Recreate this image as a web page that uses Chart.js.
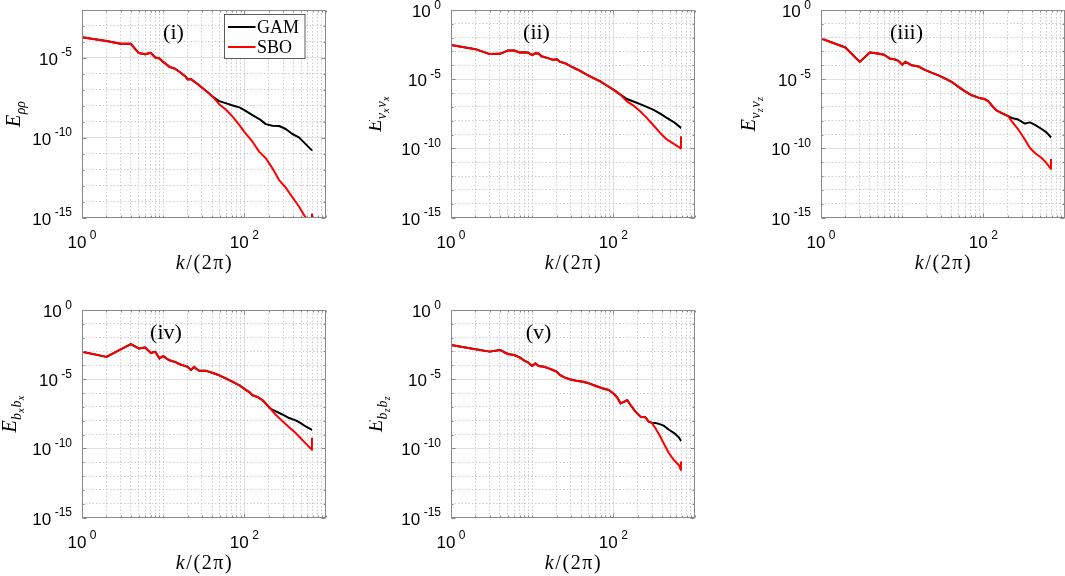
<!DOCTYPE html>
<html>
<head>
<meta charset="utf-8">
<script src="https://cdn.jsdelivr.net/npm/chart.js@4.4.1/dist/chart.umd.min.js"></script>
<style>
html,body{margin:0;padding:0;background:#fff;width:1065px;height:576px;overflow:hidden;position:relative;}
.p{position:absolute;width:328px;height:280px;}
</style>
</head>
<body>
<div class="p" style="left:0px;top:0px"><canvas id="c1"></canvas></div>
<div class="p" style="left:369px;top:0px"><canvas id="c2"></canvas></div>
<div class="p" style="left:739px;top:0px"><canvas id="c3"></canvas></div>
<div class="p" style="left:0px;top:300px"><canvas id="c4"></canvas></div>
<div class="p" style="left:369px;top:300px"><canvas id="c5"></canvas></div>
<script>
// ---------------- data ----------------
// wavenumber k/(2pi) and spectra for each panel
const K_I   = [1,2,3,4,5,6,7,8,9,10,12,14,16,19,20,22,26,31,36,41,49,60,72,87,100,126,153,184,222,268,324,391,471,558,681,682];
const SBO_I = [2.0e-4,1.15e-4,7.6e-5,7.6e-5,2.0e-5,1.7e-5,2.1e-5,1.05e-5,9.1e-6,5.6e-6,2.75e-6,2.1e-6,1.3e-6,6.5e-7,4.5e-7,4.7e-7,2.5e-7,1.2e-7,6.5e-8,3.6e-8,
               1.26e-8,5.4e-9,2.0e-9,6.2e-10,2.3e-10,5.6e-11,1.3e-11,5.1e-12,1.2e-12,2.2e-13,7.4e-14,1.86e-14,4.9e-15,1.15e-15,4.0e-16,1.8e-15];
const GAM_I = [2.0e-4,1.15e-4,7.6e-5,7.6e-5,2.0e-5,1.7e-5,2.1e-5,1.05e-5,9.1e-6,5.6e-6,2.75e-6,2.1e-6,1.3e-6,6.5e-7,4.5e-7,4.7e-7,2.5e-7,1.2e-7,6.5e-8,3.6e-8,
               1.95e-8,1.41e-8,1.05e-8,7.9e-9,5.4e-9,2.6e-9,1.48e-9,7.1e-10,5.6e-10,5.4e-10,3.5e-10,1.7e-10,1.05e-10,4.4e-11,1.6e-11,1.55e-11];

const K_II   = [1,2,3,4,5,6,7,8,9,10,11,12,13,14,16,18,20,22,26,30,36,47,57,69,83,100,121,147,177,214,258,313,378,455,550,681,682];
const SBO_II = [3.0e-3,1.48e-3,6.5e-4,6.8e-4,1.17e-3,1.17e-3,8.5e-4,8.9e-4,8.0e-4,5.5e-4,7.6e-4,7.1e-4,4.5e-4,4.0e-4,3.2e-4,2.5e-4,2.8e-4,1.8e-4,1.35e-4,8.5e-5,5.0e-5,2.1e-5,1.2e-5,6.9e-6,3.5e-6,1.74e-6,7.9e-7,
                2.5e-7,1.23e-7,4.8e-8,1.58e-8,4.5e-9,1.3e-9,4.4e-10,2.2e-10,1.0e-10,7.6e-10];
const GAM_II = [3.0e-3,1.48e-3,6.5e-4,6.8e-4,1.17e-3,1.17e-3,8.5e-4,8.9e-4,8.0e-4,5.5e-4,7.6e-4,7.1e-4,4.5e-4,4.0e-4,3.2e-4,2.5e-4,2.8e-4,1.8e-4,1.35e-4,8.5e-5,5.0e-5,2.1e-5,1.2e-5,6.9e-6,3.5e-6,1.74e-6,7.9e-7,
                3.7e-7,2.45e-7,1.58e-7,1.0e-7,6.0e-8,3.2e-8,1.58e-8,8.3e-9,3.0e-9,3.0e-9];

const K_III   = [1,2,3,4,5,6,7,8,9,10,11,13,16,19,23,28,34,41,49,59,72,87,105,115,127,145,176,203,223,269,325,375,433,523,600,681,682];
const SBO_III = [8.7e-3,1.95e-3,1.78e-4,8.5e-4,7.1e-4,5.8e-4,3.1e-4,2.75e-4,2.1e-4,1.12e-4,1.78e-4,1.02e-4,8.1e-5,4.7e-5,2.95e-5,1.9e-5,1.1e-5,6.2e-6,2.9e-6,1.38e-6,6.8e-7,4.6e-7,3.5e-7,2.6e-7,1.26e-7,5.5e-8,3.1e-8,2.1e-8,
                 9.1e-9,2.3e-9,4.3e-10,1.05e-10,4.6e-11,2.0e-11,8.5e-12,3.2e-12,1.7e-11];
const GAM_III = [8.7e-3,1.95e-3,1.78e-4,8.5e-4,7.1e-4,5.8e-4,3.1e-4,2.75e-4,2.1e-4,1.12e-4,1.78e-4,1.02e-4,8.1e-5,4.7e-5,2.95e-5,1.9e-5,1.1e-5,6.2e-6,2.9e-6,1.38e-6,6.8e-7,4.6e-7,3.5e-7,2.6e-7,1.26e-7,5.5e-8,3.1e-8,2.1e-8,
                 1.58e-8,1.2e-8,6.2e-9,7.5e-9,5.0e-9,2.5e-9,1.41e-9,6.3e-10,6.3e-10];

const K_IV   = [1,2,3,4,5,6,7,8,9,10,11,12,13,14,16,18,20,22,24,26,28,34,41,49,60,72,87,100,115,126,146,168,193,211,242,294,356,430,495,570,681,682];
const SBO_IV = [9.5e-4,4.1e-4,1.41e-3,3.4e-3,1.66e-3,1.95e-3,7.9e-4,9.5e-4,3.2e-4,4.6e-4,3.1e-4,2.3e-4,2.0e-4,1.78e-4,1.2e-4,9.5e-5,7.8e-5,4.5e-5,7.8e-5,5.2e-5,4.0e-5,4.0e-5,2.8e-5,1.9e-5,1.1e-5,6.3e-6,3.6e-6,2.0e-6,1.17e-6,6.8e-7,5.1e-7,3.0e-7,1.26e-7,7.2e-8,
                2.8e-8,9.3e-9,3.4e-9,1.26e-9,5.4e-10,2.3e-10,7.8e-11,5.8e-10];
const GAM_IV = [9.5e-4,4.1e-4,1.41e-3,3.4e-3,1.66e-3,1.95e-3,7.9e-4,9.5e-4,3.2e-4,4.6e-4,3.1e-4,2.3e-4,2.0e-4,1.78e-4,1.2e-4,9.5e-5,7.8e-5,4.5e-5,7.8e-5,5.2e-5,4.0e-5,4.0e-5,2.8e-5,1.9e-5,1.1e-5,6.3e-6,3.6e-6,2.0e-6,1.17e-6,6.8e-7,5.1e-7,3.0e-7,1.26e-7,7.2e-8,
                4.9e-8,2.8e-8,1.55e-8,1.05e-8,6.6e-9,3.8e-9,2.2e-9,2.2e-9];

const K_V   = [1,2,3,4,5,6,7,8,9,10,11,12,14,16,18,20,22,25,29,35,42,50,61,73,88,102,111,123,135,148,163,187,216,248,273,300,330,380,417,484,556,640,681,682];
const SBO_V = [2.95e-3,1.45e-3,9.8e-4,1.29e-3,6.6e-4,5.6e-4,3.8e-4,2.2e-4,1.55e-4,8.9e-5,1.38e-4,8.9e-5,7.9e-5,6.0e-5,4.6e-5,3.5e-5,2.0e-5,1.35e-5,9.8e-6,7.8e-6,6.6e-6,5.0e-6,3.2e-6,2.2e-6,1.66e-6,8.5e-7,4.9e-7,1.78e-7,2.3e-7,3.1e-7,1.35e-7,4.5e-8,1.95e-8,1.74e-8,8.5e-9,
               6.5e-9,2.8e-9,6.9e-10,2.3e-10,4.4e-11,1.45e-11,6.3e-12,2.7e-12,1.1e-11];
const GAM_V = [2.95e-3,1.45e-3,9.8e-4,1.29e-3,6.6e-4,5.6e-4,3.8e-4,2.2e-4,1.55e-4,8.9e-5,1.38e-4,8.9e-5,7.9e-5,6.0e-5,4.6e-5,3.5e-5,2.0e-5,1.35e-5,9.8e-6,7.8e-6,6.6e-6,5.0e-6,3.2e-6,2.2e-6,1.66e-6,8.5e-7,4.9e-7,1.78e-7,2.3e-7,3.1e-7,1.35e-7,4.5e-8,1.95e-8,1.74e-8,8.5e-9,
               7.2e-9,6.9e-9,5.4e-9,4.4e-9,2.2e-9,1.32e-9,6.3e-10,3.5e-10,3.5e-10];

// tick labels
const X_TICKS = [1, 100];
const X_TICK_EXP = ['0', '2'];
const Y_TICKS = [1e-15, 1e-10, 1e-5, 1e0];
const Y_TICK_EXP = ['-15', '-10', '-5', '0'];
const SERIES_NAMES = ['GAM', 'SBO'];
const PANEL_TITLES = ['(i)', '(ii)', '(iii)', '(iv)', '(v)'];
const X_LABEL = ['k', '/(2π)'];
const Y_LABELS = [
  [['E',0],['ρρ',1]],
  [['E',0],['v',1],['x',2],['v',1],['x',2]],
  [['E',0],['v',1],['z',2],['v',1],['z',2]],
  [['E',0],['b',1],['x',2],['b',1],['x',2]],
  [['E',0],['b',1],['z',2],['b',1],['z',2]]
];

// ---------------- styling / layout ----------------
const COLORS = {GAM: '#000000', SBO: '#ff0000'};
const FRAME = '#8a8a8a';
const GRID_MAJOR = '#e0e0e0';
const GRID_MINOR = '#cdcdcd';
const SANS = '"Liberation Sans", Arial, Helvetica, sans-serif';
const SERIF = '"Liberation Serif", "Times New Roman", serif';

const PANELS = [
  {id:'c1', k:K_I,   gam:GAM_I,   sbo:SBO_I,   yMin:1e-15, yMax:1e-2, title:0, titleDx:91.5, ylabDx:-62, legend:true},
  {id:'c2', k:K_II,  gam:GAM_II,  sbo:SBO_II,  yMin:1e-15, yMax:1e0,  title:1, titleDx:85.5, ylabDx:-70},
  {id:'c3', k:K_III, gam:GAM_III, sbo:SBO_III, yMin:1e-15, yMax:1e0,  title:2, titleDx:85.5, ylabDx:-66},
  {id:'c4', k:K_IV,  gam:GAM_IV,  sbo:SBO_IV,  yMin:1e-15, yMax:1e0,  title:3, titleDx:84,   ylabDx:-66},
  {id:'c5', k:K_V,   gam:GAM_V,   sbo:SBO_V,   yMin:1e-15, yMax:1e0,  title:4, titleDx:87.5, ylabDx:-69}
];

// grid positions (1..9 x each decade)
const X_GRID = [];
for (const d of [1, 10, 100]) for (let m = 1; m <= 9; m++) X_GRID.push(m * d);
X_GRID.push(1000);

function yGrid(p) {
  const g = [];
  for (let e = Math.round(Math.log10(p.yMin)); e <= Math.round(Math.log10(p.yMax)); e++) g.push(Math.pow(10, e));
  return g;
}
function isMajorX(v) { return X_TICKS.some(t => Math.abs(t - v) < 1e-9 * t); }
function isMajorY(v) { const e = Math.round(Math.log10(v)); return e % 5 === 0; }

function drawPow(ctx, exp, x, y, mode, bigSize, smallSize) {
  ctx.font = bigSize + 'px ' + SANS;
  const w10 = ctx.measureText('10').width;
  ctx.font = smallSize + 'px ' + SANS;
  const we = ctx.measureText(exp).width;
  const gap = 3.5;
  const tot = w10 + gap + we;
  let x0;
  if (mode === 'y') {
    x0 = x - tot;
    ctx.font = bigSize + 'px ' + SANS;
    ctx.fillText('10', x0, y + 7);
    ctx.font = smallSize + 'px ' + SANS;
    ctx.fillText(exp, x0 + w10 + gap, y - 1.5);
  } else {
    x0 = x - tot / 2;
    ctx.font = bigSize + 'px ' + SANS;
    ctx.fillText('10', x0, y + 30);
    ctx.font = smallSize + 'px ' + SANS;
    ctx.fillText(exp, x0 + w10 + gap, y + 21);
  }
}

function makeDecor(p) {
  return {
    id: 'decor_' + p.id,
    afterDraw(chart) {
      const ctx = chart.ctx, a = chart.chartArea, xs = chart.scales.x, ys = chart.scales.y;
      const L = Math.round(a.left) + 0.5, R = Math.round(a.right) - 0.5;
      const T = Math.round(a.top) + 0.5, B = Math.round(a.bottom) - 0.5;
      ctx.save();
      ctx.textBaseline = 'alphabetic';
      ctx.textAlign = 'left';
      // inward tick marks
      ctx.strokeStyle = FRAME;
      ctx.lineWidth = 1;
      ctx.beginPath();
      for (const v of X_GRID) {
        const px = Math.round(xs.getPixelForValue(v)) + 0.5;
        const len = isMajorX(v) ? 4 : 2;
        ctx.moveTo(px, B); ctx.lineTo(px, B - len);
        ctx.moveTo(px, T); ctx.lineTo(px, T + len);
      }
      for (const v of yGrid(p)) {
        const py = Math.round(ys.getPixelForValue(v)) + 0.5;
        const len = isMajorY(v) ? 4 : 2;
        ctx.moveTo(L, py); ctx.lineTo(L + len, py);
        ctx.moveTo(R, py); ctx.lineTo(R - len, py);
      }
      ctx.stroke();
      // box
      ctx.strokeRect(L, T, R - L, B - T);

      // tick labels
      ctx.fillStyle = '#000';
      X_TICKS.forEach((v, i) => {
        drawPow(ctx, X_TICK_EXP[i], xs.getPixelForValue(v), a.bottom, 'x', 17, 12);
      });
      Y_TICKS.forEach((v, i) => {
        if (v < p.yMin * 0.999 || v > p.yMax * 1.001) return;
        drawPow(ctx, Y_TICK_EXP[i], a.left - 10, ys.getPixelForValue(v), 'y', 17, 12);
      });

      // x-axis label k/(2π)
      const xlSize = 20;
      const chars = [];
      for (const ch of X_LABEL[0]) chars.push([ch, 'italic ']);
      for (const ch of X_LABEL[1]) chars.push([ch, '']);
      const sp = 1.6;
      let tw = 0;
      chars.forEach(([c, st]) => { ctx.font = st + xlSize + 'px ' + SERIF; tw += ctx.measureText(c).width + sp; });
      tw -= sp;
      let cx = (a.left + a.right) / 2 - tw / 2;
      chars.forEach(([c, st]) => {
        ctx.font = st + xlSize + 'px ' + SERIF;
        ctx.fillText(c, cx, a.bottom + 51);
        cx += ctx.measureText(c).width + sp;
      });

      // y-axis label (rotated, with subscripts)
      const parts = Y_LABELS[p.title];
      const sizes = [20, 14, 10], dys = [0, 4.5, 7.5];
      let yw = 0;
      parts.forEach(([t, lv]) => { ctx.font = 'italic ' + sizes[lv] + 'px ' + SERIF; yw += ctx.measureText(t).width + (lv === 2 ? 0.8 : 0.3); });
      ctx.save();
      ctx.translate(a.left + p.ylabDx, (a.top + a.bottom) / 2);
      ctx.rotate(-Math.PI / 2);
      let lx = -yw / 2;
      parts.forEach(([t, lv]) => {
        ctx.font = 'italic ' + sizes[lv] + 'px ' + SERIF;
        ctx.fillText(t, lx, dys[lv]);
        lx += ctx.measureText(t).width + (lv === 2 ? 0.8 : 0.3);
      });
      ctx.restore();

      // panel title
      ctx.font = '22px ' + SERIF;
      ctx.textAlign = 'center';
      ctx.fillText(PANEL_TITLES[p.title], a.left + p.titleDx, a.top + 29);
      ctx.textAlign = 'left';

      // legend
      if (p.legend) {
        const bx = a.left + 142.5, by = a.top + 4.5, bw = 80.5, bh = 44;
        ctx.fillStyle = '#fff';
        ctx.fillRect(bx, by, bw, bh);
        ctx.strokeStyle = '#333';
        ctx.lineWidth = 0.8;
        ctx.strokeRect(bx, by, bw, bh);
        SERIES_NAMES.forEach((name, i) => {
          const ry = by + 12.5 + i * 20;
          ctx.strokeStyle = COLORS[name];
          ctx.lineWidth = 2;
          ctx.beginPath();
          ctx.moveTo(bx + 3.5, ry); ctx.lineTo(bx + 31, ry);
          ctx.stroke();
          ctx.fillStyle = '#000';
          ctx.font = '18px ' + SERIF;
          ctx.fillText(name, bx + 32.5, ry + 6);
        });
      }
      ctx.restore();
    }
  };
}

function pts(k, v) { return k.map((kk, i) => ({x: kk, y: v[i]})); }

PANELS.forEach(p => {
  const yg = yGrid(p);
  new Chart(document.getElementById(p.id), {
    type: 'line',
    data: {
      datasets: [
        {label: SERIES_NAMES[1], data: pts(p.k, p.sbo), borderColor: COLORS.SBO, borderWidth: 2,
         pointRadius: 0, tension: 0, fill: false, order: 0, clip: 0, borderJoinStyle: 'round'},
        {label: SERIES_NAMES[0], data: pts(p.k, p.gam), borderColor: COLORS.GAM, borderWidth: 2,
         pointRadius: 0, tension: 0, fill: false, order: 1, clip: 0, borderJoinStyle: 'round'}
      ]
    },
    options: {
      responsive: true,
      maintainAspectRatio: false,
      animation: false,
      events: [],
      layout: {padding: {left: 82, top: 10, right: 2.5, bottom: 62.5}},
      plugins: {legend: {display: false}, tooltip: {enabled: false}, title: {display: false}},
      scales: {
        x: {
          type: 'logarithmic', min: 1, max: 1000,
          afterBuildTicks: s => { s.ticks = X_GRID.map(v => ({value: v})); },
          afterFit: s => { s.height = 0; },
          ticks: {display: false},
          grid: {drawTicks: false, lineWidth: 1,
                 color: c => (c.tick && isMajorX(c.tick.value)) ? GRID_MAJOR : GRID_MINOR},
          border: {display: false, dash: c => (c.tick && isMajorX(c.tick.value)) ? [] : [1.5, 2]}
        },
        y: {
          type: 'logarithmic', min: p.yMin, max: p.yMax,
          afterBuildTicks: s => { s.ticks = yg.map(v => ({value: v})); },
          afterFit: s => { s.width = 0; },
          ticks: {display: false},
          grid: {drawTicks: false, lineWidth: 1,
                 color: c => (c.tick && isMajorY(c.tick.value)) ? GRID_MAJOR : GRID_MINOR},
          border: {display: false, dash: c => (c.tick && isMajorY(c.tick.value)) ? [] : [1.5, 2]}
        }
      }
    },
    plugins: [makeDecor(p)]
  });
});
</script>
</body>
</html>
